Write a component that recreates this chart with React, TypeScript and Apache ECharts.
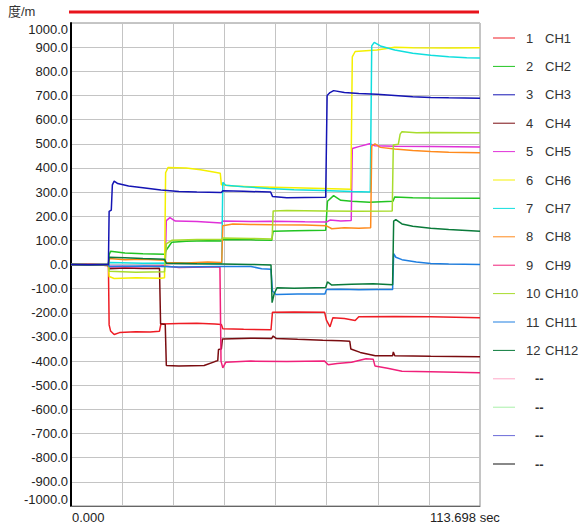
import React, { useEffect, useRef } from "react";
import * as echarts from "echarts";

const seriesNames = [
  "1 CH1", "2 CH2", "3 CH3", "4 CH4", "5 CH5", "6 CH6", "7 CH7", "8 CH8",
  "9 CH9", "10 CH10", "11 CH11", "12 CH12", "13 --", "14 --", "15 --", "16 --",
];
const seriesColors = [
  "#ee1c24", "#22c422", "#1414b4", "#7a0c10", "#e030d8", "#f4f000", "#10dede", "#ff8a1c",
  "#f0207a", "#a8dc2c", "#1e7ee0", "#0a7a3a", "#ffa8c8", "#a8f0a8", "#6a6ad8", "#101010",
];
const yTickValues = { min: -1000, max: 1000, step: 100 };
const xRange = { min: 0, max: 113.698 };
const xTickLabels = ["0.000", "113.698 sec"];
const yAxisUnit = "度/m";

const ch1 = [[0,0],[3,-2],[6,2],[9,-3],[10.4,-5],[10.6,-250],[11,-275],[12,-290],[13.5,-282],[18,-278],[22,-280],[24.6,-276],[25,-246],[30,-244],[35,-243],[40,-246],[41.8,-248],[42.2,-266],[48,-268],[55.6,-270],[56,-198],[62,-197],[70.5,-198],[71,-230],[72,-258],[72.8,-220],[76,-224],[79,-232],[80,-216],[90,-215],[100,-216],[113.7,-220]];
const ch2 = [[0,0],[5,2],[10.4,0],[10.6,40],[11,55],[15,48],[20,45],[26,42],[26.5,60],[28,92],[32,96],[38,98],[41.9,97],[42.2,104],[50,102],[55.8,100],[56.2,138],[62,140],[70.8,142],[71.3,262],[73,285],[75,266],[78,262],[83,258],[89.5,262],[90,280],[95,276],[100,275],[113.7,274]];
const ch3 = [[0,0],[5,-1],[10.4,0],[10.6,220],[11.2,225],[11.5,330],[12,345],[13,335],[16,325],[20,318],[25,308],[30,302],[35,300],[41.8,298],[42.2,305],[48,303],[55.5,300],[56,282],[60,276],[65,277],[70.8,278],[71.2,700],[72,712],[73,720],[76,712],[80,708],[85,705],[90,700],[95,695],[100,692],[105,690],[113.7,688]];
const ch4 = [[0,0],[5,-2],[10.3,-3],[10.6,-18],[15,-15],[20,-17],[24.6,-16],[24.9,-245],[26.2,-248],[26.5,-418],[30,-420],[37,-418],[40,-402],[40.8,-398],[41,-352],[41.8,-350],[42.1,-308],[50,-305],[55.8,-306],[56.2,-296],[57,-306],[63,-310],[70,-314],[75,-316],[77.5,-318],[77.8,-350],[80.4,-364],[84.6,-378],[89.4,-378],[89.6,-362],[90,-378],[100,-380],[113.7,-382]];
const ch5 = [[0,0],[5,-1],[10.4,0],[10.6,-6],[18,-8],[25,-6],[26.2,-5],[26.5,182],[27.5,194],[29,180],[35,178],[41.8,172],[42.2,180],[50,178],[56,179],[65,177],[71,176],[72,184],[75,180],[77.9,182],[78.2,480],[80,488],[83,500],[84.5,492],[90,490],[100,489],[113.7,487]];
const ch6 = [[0,0],[5,1],[10.4,0],[10.6,-50],[12,-58],[18,-55],[25,-57],[26,-55],[26.3,380],[27,402],[32,400],[36,392],[40,382],[41.5,378],[41.8,330],[45,325],[50,322],[56,320],[62,318],[70,315],[77.8,312],[78.2,860],[79,882],[85,888],[90,900],[95,898],[105,896],[113.7,897]];
const ch7 = [[0,0],[5,0],[10.4,1],[10.6,8],[20,5],[30,6],[41.9,5],[42.2,340],[43,328],[48,322],[55,315],[62,310],[70,306],[78,302],[83.2,300],[83.6,905],[84.3,920],[86,905],[90,888],[95,875],[100,866],[105,860],[110,856],[113.7,855]];
const ch8 = [[0,0],[5,1],[10.4,0],[10.6,25],[15,20],[20,22],[26,18],[26.4,8],[32,6],[38,10],[41.9,8],[42.2,160],[45,168],[50,166],[56,165],[65,164],[71,160],[72.5,148],[76,152],[80,150],[83.3,152],[83.6,490],[84.5,500],[86,485],[90,478],[95,472],[100,468],[105,465],[113.7,463]];
const ch9 = [[0,0],[5,1],[10.3,0],[10.6,-10],[20,-8],[26,-6],[30,-12],[38,-10],[41.4,-10],[41.7,-400],[42.2,-428],[43,-405],[50,-400],[60,-402],[70.5,-400],[71.5,-415],[74,-410],[78,-405],[82,-390],[84,-392],[84.5,-420],[88,-430],[92,-442],[100,-444],[113.7,-448]];
const ch10 = [[0,0],[5,-1],[10.4,0],[10.6,-28],[18,-32],[26,-30],[26.5,85],[28,100],[35,104],[41.9,105],[42.2,110],[50,108],[55.9,106],[56.2,222],[60,224],[70,222],[80,220],[89.3,222],[89.6,495],[91,498],[91.5,540],[92,550],[96,546],[100,547],[113.7,546]];
const ch11 = [[0,0],[5,0],[10.4,1],[10.6,-8],[20,-6],[30,-10],[42,-8],[50,-8],[53,-18],[55.6,-20],[56,-110],[57,-124],[63,-122],[70.6,-122],[71,-104],[75,-103],[80,-105],[85,-104],[89.4,-104],[89.7,45],[90.3,30],[92,20],[96,10],[100,4],[105,2],[113.7,0]];
const ch12 = [[0,0],[5,-1],[10.4,0],[10.6,30],[15,28],[20,25],[26,22],[26.5,5],[35,3],[42,2],[50,0],[55.6,-2],[55.9,-158],[56.5,-120],[57.3,-96],[62,-98],[70.8,-95],[71.3,-72],[72.5,-85],[78,-82],[84,-80],[89.4,-84],[89.7,180],[90.3,186],[92,168],[95,158],[100,150],[105,145],[113.7,138]];
const seriesData = [ch1, ch2, ch3, ch4, ch5, ch6, ch7, ch8, ch9, ch10, ch11, ch12, [], [], [], []];

const FONT = "'Liberation Sans', Arial, 'Noto Sans CJK SC', sans-serif";

export default function App() {
  const ref = useRef<HTMLDivElement>(null);
  useEffect(() => {
    if (!ref.current) return;
    const chart = echarts.init(ref.current, null, { renderer: "svg" });
    const step = (xRange.max - xRange.min) / 8;
    chart.setOption({
      animation: false,
      backgroundColor: "#ffffff",
      textStyle: { fontFamily: FONT },
      grid: {
        left: 71, right: 104, top: 23, bottom: 22,
        show: true, borderColor: "#8c8c8c", borderWidth: 1, backgroundColor: "#ffffff",
      },
      xAxis: {
        type: "value", min: xRange.min, max: xRange.max, interval: step,
        axisLine: { show: true, onZero: false, lineStyle: { color: "#666", width: 1 } },
        axisTick: { show: false },
        axisLabel: { show: false },
        splitLine: { show: true, lineStyle: { color: "#c4c4c4", width: 1 } },
      },
      yAxis: {
        type: "value", min: yTickValues.min, max: yTickValues.max, interval: yTickValues.step,
        axisLine: { show: true, onZero: false, lineStyle: { color: "#000", width: 2 } },
        axisTick: { show: false },
        axisLabel: {
          formatter: (v: number) => v.toFixed(1),
          fontSize: 13, color: "#222", margin: 3, fontFamily: FONT,
          verticalAlignMaxLabel: "top", verticalAlignMinLabel: "bottom",
        },
        splitLine: { show: true, lineStyle: { color: "#c4c4c4", width: 1 } },
      },
      legend: {
        orient: "vertical", left: 488, top: 26,
        itemWidth: 22, itemHeight: 14, itemGap: 14.4,
        icon: "path://M0,6.5L22,6.5L22,7.5L0,7.5Z",
        data: seriesNames,
        textStyle: {
          fontSize: 13, color: "#333", lineHeight: 14, padding: [0, 0, 0, 6], fontFamily: FONT,
          rich: {
            n: { width: 19, fontSize: 13, color: "#333", lineHeight: 14, fontFamily: FONT },
            c: { fontSize: 13, color: "#333", lineHeight: 14, fontFamily: FONT },
            d: { fontSize: 13, color: "#333", lineHeight: 14, fontWeight: "bold", padding: [0, 0, 0, 9], fontFamily: FONT },
          },
        },
        formatter: (name: string) => {
          const [num, ch] = name.split(" ");
          if (ch === "--") return `{d|--}`;
          return `{n|${num}}{c|${ch}}`;
        },
      },
      graphic: [
        { type: "rect", shape: { x: 69, y: 10.5, width: 410, height: 3 }, style: { fill: "#e8141c" } },
        { type: "text", left: 8, top: 5, style: { text: yAxisUnit, fontSize: 13, fill: "#333", fontFamily: FONT } },
        { type: "text", left: 72, top: 511, style: { text: xTickLabels[0], fontSize: 13, fill: "#222", fontFamily: FONT } },
        { type: "text", left: 430, top: 511, style: { text: xTickLabels[1], fontSize: 13, fill: "#222", fontFamily: FONT } },
      ],
      series: seriesNames.map((name, i) => ({
        name,
        type: "line",
        data: seriesData[i],
        showSymbol: false,
        symbol: "none",
        color: seriesColors[i],
        lineStyle: { width: 1.5, color: seriesColors[i] },
        z: 2 + (i === 2 ? 1 : 0),
      })),
    });
    return () => chart.dispose();
  }, []);
  return (
    <div ref={ref} style={{ position: "absolute", left: 0, top: 0, width: 584, height: 528 }} />
  );
}
